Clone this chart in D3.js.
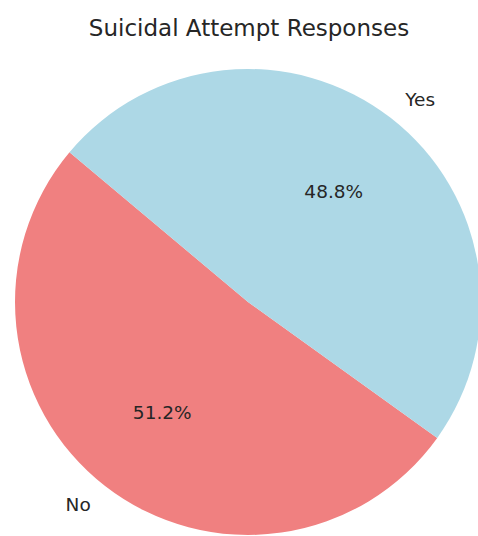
<!DOCTYPE html>
<html>
<head>
<meta charset="utf-8">
<script src="https://cdn.jsdelivr.net/npm/d3@7"></script>
<style>
  html, body { margin: 0; padding: 0; background: #ffffff; }
  text { font-family: "DejaVu Sans", sans-serif; fill: #262626; }
</style>
</head>
<body>
<svg id="chart" width="478" height="536"></svg>
<script>
// Survey answers and their shares
const categories = ["No", "Yes"];
const shares = [51.2, 48.8];
const colors = ["#F08080", "#ADD8E6"];
const title = "Suicidal Attempt Responses";

const width = 478, height = 536;
const cx = 248, cy = 302, radius = 233;
const startDeg = 140; // first wedge starts here, measured counter-clockwise from 3 o'clock

const svg = d3.select("#chart");

svg.append("text")
  .attr("x", 249)
  .attr("y", 36)
  .attr("text-anchor", "middle")
  .style("font-size", "23px")
  .text(title);

// d3.pie angles run clockwise from 12 o'clock; convert the counter-clockwise start
const startAngle = Math.PI / 2 - startDeg * Math.PI / 180;
const pie = d3.pie()
  .value(d => d)
  .sort(null)
  .startAngle(startAngle)
  .endAngle(startAngle - 2 * Math.PI);

const arcs = pie(shares);
const arc = d3.arc().innerRadius(0).outerRadius(radius);

const g = svg.append("g").attr("transform", `translate(${cx},${cy})`);

g.selectAll("path.slice")
  .data(arcs)
  .join("path")
  .attr("class", "slice")
  .attr("d", arc)
  .attr("fill", (d, i) => colors[i]);

const total = d3.sum(shares);
const mid = d => (d.startAngle + d.endAngle) / 2;
const pt = (d, k) => [Math.sin(mid(d)) * radius * k, -Math.cos(mid(d)) * radius * k];

// percentage inside each wedge
g.selectAll("text.pct")
  .data(arcs)
  .join("text")
  .attr("class", "pct")
  .attr("x", d => pt(d, 0.6)[0])
  .attr("y", d => pt(d, 0.6)[1])
  .attr("text-anchor", "middle")
  .attr("dominant-baseline", "central")
  .style("font-size", "18.5px")
  .text(d => (d.value / total * 100).toFixed(1) + "%");

// category names just outside the rim
g.selectAll("text.cat")
  .data(arcs)
  .join("text")
  .attr("class", "cat")
  .attr("x", d => pt(d, 1.1)[0])
  .attr("y", d => pt(d, 1.1)[1])
  .attr("text-anchor", d => pt(d, 1)[0] < 0 ? "end" : "start")
  .attr("dominant-baseline", "central")
  .style("font-size", "18.5px")
  .text((d, i) => categories[i]);
</script>
</body>
</html>
